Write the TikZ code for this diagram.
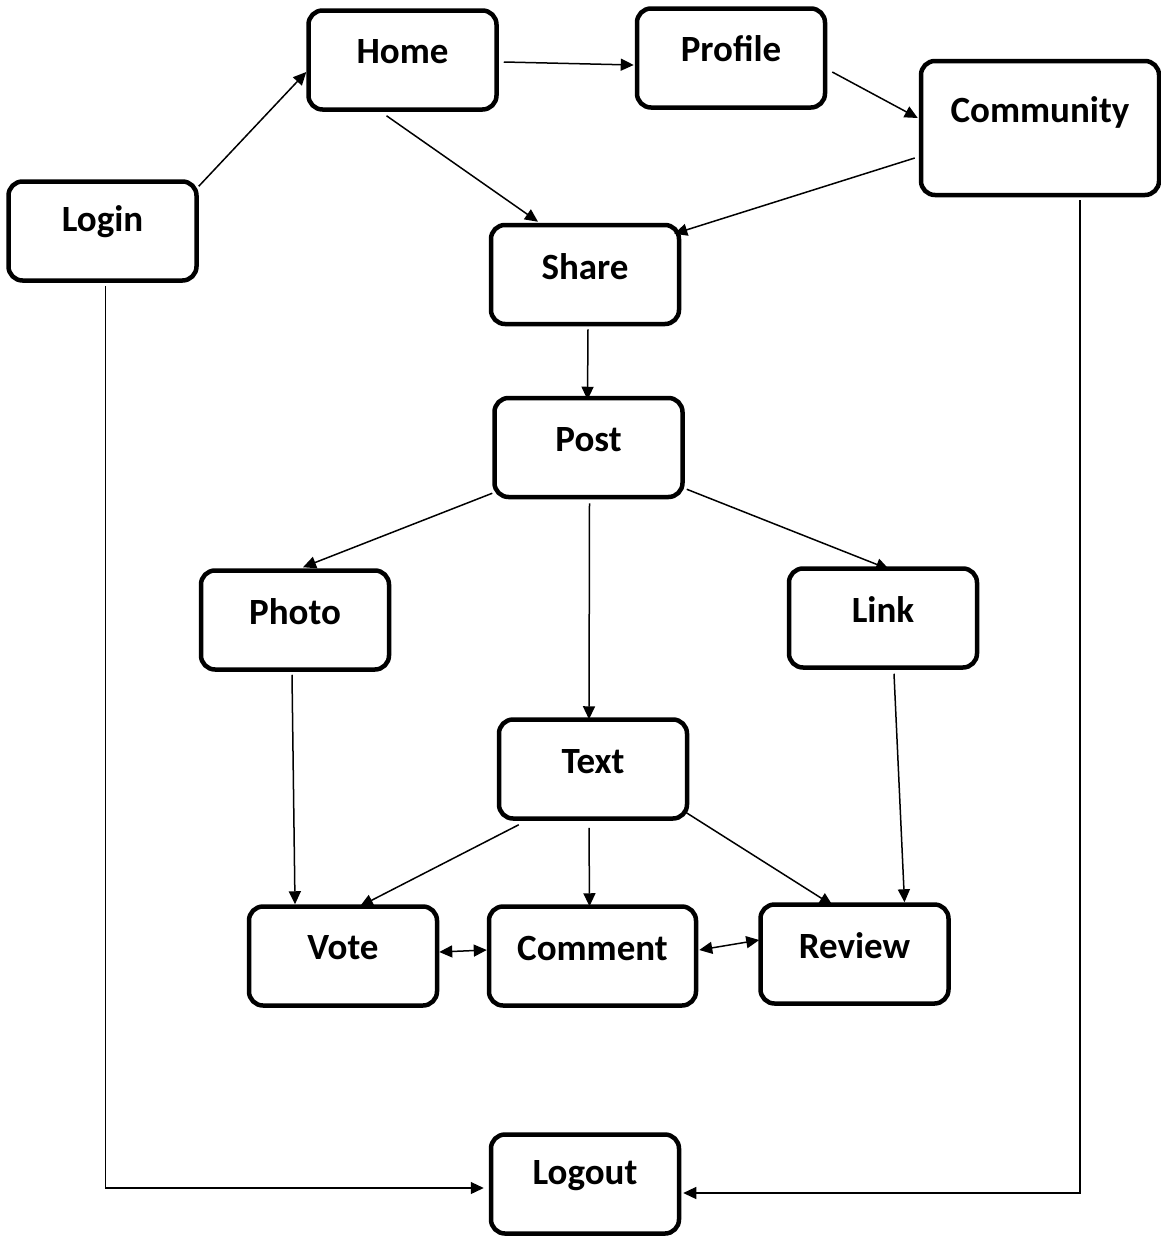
\documentclass[tikz,border=0pt]{standalone}
\usepackage{fontspec}
\setmainfont{Carlito}
\usetikzlibrary{arrows.meta}
\begin{document}
\begin{tikzpicture}[x=1pt,y=-1pt,
  box/.style={draw, line width=4.5pt, rounded corners=14pt, minimum width=188pt, minimum height=99pt, inner sep=0pt},
  lbl/.style={font=\fontsize{37}{44}\selectfont\bfseries},
  conn/.style={line width=1.5pt, -{Triangle[length=13pt,width=12pt]}},
  bconn/.style={line width=1.5pt, {Triangle[length=13pt,width=12pt]}-{Triangle[length=13pt,width=12pt]}},
  ]
\useasboundingbox (0,0) rectangle (1161,1237);
\node[box, label={[lbl,yshift=8pt]center:Home}] (home) at (402.5,60) {};
\node[box, label={[lbl,yshift=9pt]center:Profile}] (profile) at (731,58) {};
\node[box, minimum width=238pt, minimum height=134pt, label={[lbl,yshift=16pt]center:Community}] (community) at (1040,128) {};
\node[box, label={[lbl,yshift=9pt]center:Login}] (login) at (102.5,231) {};
\node[box, label={[lbl,yshift=8pt]center:Share}] (share) at (585,274.5) {};
\node[box, label={[lbl,yshift=8pt]center:Post}] (post) at (588.5,447.5) {};
\node[box, label={[lbl,yshift=8pt]center:Photo}] (photo) at (295,620) {};
\node[box, label={[lbl,yshift=8pt]center:Link}] (link) at (883,618) {};
\node[box, label={[lbl,yshift=7pt]center:Text}] (text) at (593,769) {};
\node[box, label={[lbl,yshift=8pt]center:Vote}] (vote) at (343,956) {};
\node[box, minimum width=207pt, label={[lbl,yshift=8pt]center:Comment}] (comment) at (592.5,956) {};
\node[box, label={[lbl,yshift=8pt]center:Review}] (review) at (854.5,954) {};
\node[box, label={[lbl,yshift=8pt]center:Logout}] (logout) at (585,1184) {};

\draw[conn] ([yshift=-7pt]login.north east) -- ([yshift=-12pt]home.west);
\draw[conn] ([xshift=5pt,yshift=-2pt]home.east) -- ([xshift=-1pt,yshift=-7pt]profile.west);
\draw[conn] ([xshift=5pt,yshift=-14pt]profile.east) -- ([xshift=-1pt,yshift=10pt]community.west);
\draw[conn] ([xshift=-16pt,yshift=-4pt]home.south) -- ([xshift=-47pt,yshift=1pt]share.north);
\draw[conn] ([xshift=-4pt,yshift=-30pt]community.west) -- ([xshift=-7pt,yshift=-11pt]share.north east);
\draw[conn] ([xshift=3pt,yshift=-3pt]share.south) -- ([xshift=-1pt,yshift=-4pt]post.north);
\draw[conn] ([yshift=6pt]post.south west) -- ([xshift=8pt,yshift=1pt]photo.north);
\draw[conn] ([xshift=1pt,yshift=-4pt]post.south) -- ([xshift=-4pt,yshift=-2pt]text.north);
\draw[conn] ([xshift=2pt,yshift=10pt]post.south east) -- ([xshift=6pt,yshift=-3pt]link.north);
\draw[conn] ([xshift=-3pt,yshift=-3pt]photo.south) -- ([xshift=-48pt]vote.north);
\draw[conn] ([xshift=22pt,yshift=-4pt]text.south west) -- ([xshift=17pt,yshift=-2pt]vote.north);
\draw[conn] ([xshift=-4pt,yshift=-7pt]text.south) -- ([xshift=-3pt,yshift=-2pt]comment.north);
\draw[conn] ([xshift=-6pt,yshift=10pt]text.south east) -- ([xshift=-22pt,yshift=-3pt]review.north);
\draw[conn] ([xshift=11pt,yshift=-4pt]link.south) -- ([xshift=50pt]review.north);
\draw[bconn] ([yshift=4pt]vote.east) -- ([yshift=6pt]comment.west);
\draw[bconn] ([xshift=1pt,yshift=6pt]comment.east) -- ([xshift=1pt,yshift=14pt]review.west);
\draw[conn, line width=1.2pt] ([xshift=3pt,yshift=-3pt]login.south) |- ([xshift=-5pt,yshift=-4pt]logout.west);
\draw[conn, line width=1.2pt] ([xshift=40pt,yshift=-3pt]community.south) |- ([xshift=2pt,yshift=-9pt]logout.east);
\end{tikzpicture}
\end{document}
